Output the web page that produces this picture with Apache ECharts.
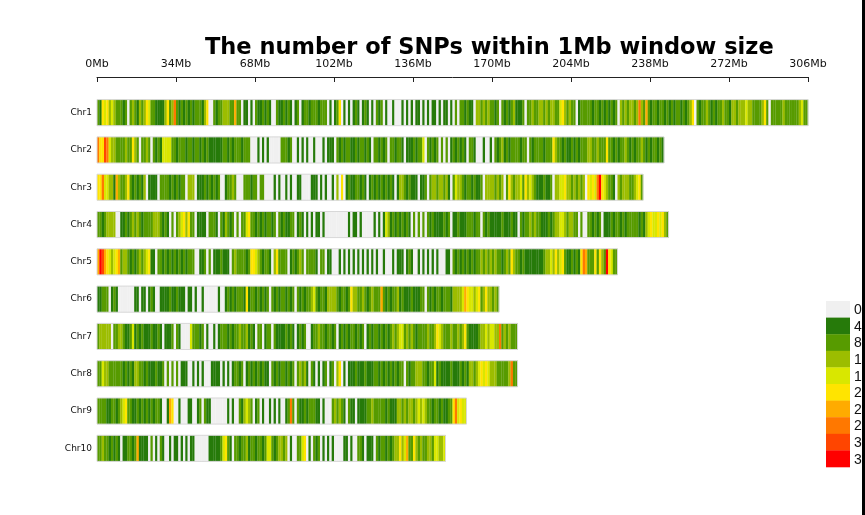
<!DOCTYPE html>
<html>
<head>
<meta charset="utf-8">
<script src="https://cdn.jsdelivr.net/npm/echarts@6/dist/echarts.min.js"></script>
<style>
  html, body { margin: 0; padding: 0; background: #fff; }
  #graph { width: 865px; height: 515px; }
</style>
</head>
<body>
<div id="graph"></div>
<script>
// chromosome names, top to bottom
var chromNames = ['Chr1', 'Chr2', 'Chr3', 'Chr4', 'Chr5', 'Chr6', 'Chr7', 'Chr8', 'Chr9', 'Chr10'];

// one digit per 1Mb window = density class (0..9), 10 windows per chunk
var chr1 = ['2154534322', '2120232132', '3542211113', '5237212121', '2122213500', '2122333226', '2201101021', '1212100211',
            '2121012012', '2122212220', '1012501010', '1210121010', '2120100100', '0101010110', '1010110101', '1010202212',
            '1103323232', '2120212123', '1112022322', '3323233224', '5323220122', '2221221212', '1212032323', '3237326212',
            '2122121212', '2121235021', '2232121223', '2213323334', '3322223520', '2222232222', '223422'];
var chr2 = ['7558743322', '2232253202', '2320212144', '4422122212', '2122121211', '1111221212', '2212220001', '0101000002',
            '2212001010', '1001000101', '1102121221', '1212212102', '2121202212', '2101112122', '4021212020', '2012121210',
            '2210001001', '0212312122', '2212202122', '2212225322', '1211212122', '2332232225', '2212122321', '2122321212',
            '2121'];
var chr3 = ['5574433163', '2235212121', '3011110222', '2121212203', '3301112121', '2120012232', '0002221220', '2200001010',
            '0101001100', '0011101010', '0103050121', '1221210121', '2121212101', '3321211101', '1202332332', '3102433212',
            '2121120333', '3232302532', '3342534321', '1121120334', '4533232323', '0545479543', '2210323332', '23452'];
var chr4 = ['2212333300', '1121232321', '2222333212', '1020234535', '2201111022', '2102132120', '2022452212', '1212212021',
            '2112201210', '1010110100', '0000000010', '1101000001', '0101431212', '1212102020', '2021211112', '1201121112',
            '2212202121', '1111211121', '1021223232', '2111212334', '4323322020', '0221212011', '1212212122', '2221213454',
            '454532'];
var chr5 = ['6986543456', '2332121232', '3451102212', '1212121212', '2200112020', '1112111023', '2222125543', '2122103522',
            '2201212320', '2222102201', '1000101010', '1010101010', '1001000101', '1101210010', '1010101000', '1102121212',
            '1212232323', '2322123253', '2212111111', '1123343534', '5211212157', '6222525329', '5422'];
var chr6 = ['1122201210', '0000001101', '1012100111', '1211211101', '1010010000', '0010012121', '2221512212', '1212021212',
            '2121202121', '2234212213', '3332122125', '3322321232', '2262121223', '1211121112', '2021212212', '2213333465',
            '4434523533', '232'];
var chr7 = ['2333330223', '3211241212', '1112112101', '1120210000', '4222120100', '1012221212', '2322312102', '2012202111',
            '1212101212', '0012232212', '2120121212', '2121201212', '2121212323', '4423232122', '2232235432', '2232232352',
            '1111233434', '4337232322', '2'];
var chr8 = ['2243322222', '2121213322', '1211121120', '2020201110', '0101010001', '1110101012', '2120121212', '1211021212',
            '2121202323', '1021010120', '1203501011', '1211121112', '2121212121', '2202122333', '2212241211', '1121112121',
            '3323454543', '3322222372', '2'];
var chr9 = ['2222112212', '3452211212', '1212122100', '1650010001', '1001202110', '0000001010', '0213432012', '0100101010',
            '0127202112', '1222110100', '0232321021', '1011112232', '2222121113', '3232332343', '4322122121', '122574544'];
var chr10 = ['2232212121', '0112212611', '1102010210', '0101101010', '1100000011', '1112452102', '2122312212', '2124421233',
             '2301002245', '0102120101', '0100001101', '0022101110', '2122121233', '5346225323', '2233244334'];

var binLevels = [chr1, chr2, chr3, chr4, chr5, chr6, chr7, chr8, chr9, chr10];

// legend classes
var classLabels = ['0', '4', '8', '12', '16', '20', '24', '28', '32', '36'];
var classColors = ['#f0f0f0', '#267a0a', '#579b00', '#9cbd00', '#d9e700', '#ffe400', '#ffab00', '#ff7800', '#ff4500', '#ff0000'];

// x axis ticks (Mb)
var axisMax = 306;
var axisStep = 34;

var binData = [];
var outlineData = [];
binLevels.forEach(function (chunks, ci) {
    var s = chunks.join('');
    for (var i = 0; i < s.length; i++) {
        binData.push([i, ci, parseInt(s.charAt(i), 10)]);
    }
    outlineData.push([s.length, ci]);
});

var page_graph = document.getElementById('graph');
var ctx_graph = echarts.init(page_graph);

// legend drawn by hand (the piecewise visualMap gets pushed inside the canvas)
var legendTop = 301;
var legendStep = 16.6;
var legendGraphics = [];
classLabels.forEach(function (lab, i) {
    legendGraphics.push({
        type: 'rect',
        shape: { x: 826, y: legendTop + i * legendStep, width: 24, height: legendStep + 0.3 },
        style: { fill: classColors[i] }
    });
    legendGraphics.push({
        type: 'text',
        x: 854,
        y: legendTop + i * legendStep + legendStep / 2 + 1,
        style: {
            text: lab,
            font: '14px "Liberation Sans", Arial, sans-serif',
            fill: '#111',
            verticalAlign: 'middle',
            align: 'left'
        }
    });
});
legendGraphics.push({
    type: 'rect',
    shape: { x: 862, y: 0, width: 3, height: 515 },
    style: { fill: '#000' },
    z: 100
});

ctx_graph.setOption({
    animation: false,
    title: {
        text: 'The number of SNPs within 1Mb window size',
        left: 200,
        top: 32,
        textStyle: {
            fontFamily: 'DejaVu Sans, sans-serif',
            fontWeight: 'bold',
            fontSize: 22.5,
            color: '#000'
        }
    },
    grid: {
        left: 97,
        right: 57,
        top: 94,
        bottom: 48
    },
    xAxis: {
        type: 'value',
        position: 'top',
        offset: 17,
        min: 0,
        max: axisMax,
        interval: axisStep,
        axisLine: { show: true, lineStyle: { color: '#222', width: 1 } },
        axisTick: { show: true, inside: true, length: 5, lineStyle: { color: '#222' } },
        axisLabel: {
            formatter: '{value}Mb',
            fontSize: 11,
            fontFamily: 'DejaVu Sans, sans-serif',
            color: '#111',
            margin: 7
        },
        splitLine: { show: false }
    },
    yAxis: {
        type: 'category',
        data: chromNames,
        inverse: true,
        axisLine: { show: false },
        axisTick: { show: false },
        axisLabel: {
            fontSize: 9,
            fontFamily: 'DejaVu Sans, sans-serif',
            color: '#111',
            margin: 5
        },
        splitLine: { show: false }
    },
    visualMap: {
        type: 'piecewise',
        show: false,
        seriesIndex: 0,
        dimension: 2,
        pieces: classLabels.map(function (lab, i) {
            return { value: i, label: lab, color: classColors[i] };
        })
    },
    graphic: legendGraphics,
    series: [
        {
            type: 'custom',
            data: binData,
            encode: { x: 0, y: 1 },
            renderItem: function (params, api) {
                var p0 = api.coord([api.value(0), api.value(1)]);
                var p1 = api.coord([api.value(0) + 1, api.value(1)]);
                var h = api.size([0, 1])[1] * 0.7;
                return {
                    type: 'rect',
                    shape: { x: p0[0], y: p0[1] - h / 2, width: p1[0] - p0[0] + 0.2, height: h },
                    style: { fill: api.visual('color') }
                };
            }
        },
        {
            type: 'custom',
            data: outlineData,
            encode: { x: 0, y: 1 },
            silent: true,
            renderItem: function (params, api) {
                var p0 = api.coord([0, api.value(1)]);
                var p1 = api.coord([api.value(0), api.value(1)]);
                var h = api.size([0, 1])[1] * 0.7;
                return {
                    type: 'rect',
                    shape: { x: p0[0], y: p0[1] - h / 2, width: p1[0] - p0[0], height: h },
                    style: { fill: 'none', stroke: '#d8d8d8', lineWidth: 1 }
                };
            }
        }
    ]
});
</script>
</body>
</html>
